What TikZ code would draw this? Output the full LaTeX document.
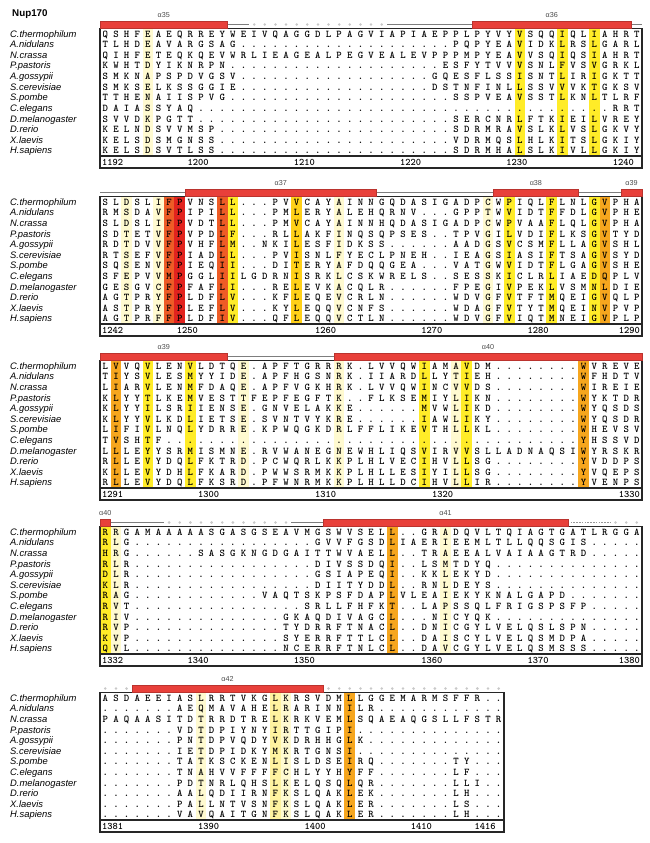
\documentclass[tikz,border=0pt]{standalone}
\usepackage{fontspec}
\setmainfont{Liberation Sans}
\definecolor{helixred}{RGB}{232,64,58}
\definecolor{consred}{RGB}{226,35,30}
\definecolor{consredorange}{RGB}{238,92,38}
\definecolor{consorange}{RGB}{246,166,30}
\definecolor{consgold}{RGB}{255,208,24}
\definecolor{consyellow}{RGB}{255,236,40}
\definecolor{conslight}{RGB}{255,243,160}
\definecolor{conspale}{RGB}{255,250,208}
\definecolor{coilgrey}{RGB}{125,125,125}
\definecolor{gapgrey}{RGB}{200,200,200}
\tikzset{
  res/.style={font=\ttfamily\bfseries\fontsize{10.3}{11}\selectfont, inner sep=0pt, anchor=base},
  species/.style={font=\itshape\fontsize{9.4}{10}\selectfont, inner sep=0pt, anchor=base west},
  rulernum/.style={font=\ttfamily\bfseries\fontsize{10}{11}\selectfont, inner sep=0pt},
  alnbox/.style={draw=black!85, line width=1.5pt},
  helix/.style={fill=helixred, draw=helixred!80!black, line width=0.4pt},
  coil/.style={draw=coilgrey, line width=0.9pt},
  disorder/.style={fill=gapgrey},
  sslabel/.style={font=\fontsize{7.2}{8}\selectfont, text=black!70, inner sep=0pt}
}
% one residue column is 10.63 wide, the boxes start at x=100
\newcounter{rescol}
\newcommand*{\dotsrun}{gaps}
\newcommand{\seqres}[1]{\stepcounter{rescol}\node[res] at ({94.7+10.63*\arabic{rescol}},\rowy) {#1};}
\def\seqchars#1{%
  \ifx#1\relax \let\seqnext\relax
  \else\ifx#1\dotsrun \let\seqnext\seqgap
  \else \seqres{#1}\let\seqnext\seqchars \fi\fi
  \seqnext}
\def\seqgap#1{\foreach \k in {1,...,#1}{\seqres{.}}\seqchars}
\newcommand{\seqrow}[4]{% top row y, row index, species, residues
  \pgfmathsetmacro{\rowy}{#1+10.6*#2+3.2}
  \node[species] (sp-\blk-#2) at (10,\rowy) {#3};
  \setcounter{rescol}{0}
  \seqchars#4\relax}
\newcommand{\hlcol}[3]{\fill[#3] ({100+10.63*(#2-1)},{#1-5.5}) rectangle ++(10.63,127.5);}
\newcommand{\alnframe}[2]{
  \draw[alnbox] (100,{#1-5.5}) rectangle ({100+10.63*#2},{#1+134});
  \draw[alnbox] (100,{#1+122}) -- ({100+10.63*#2},{#1+122});
}
\newcommand{\rulerfirst}[2]{\node[rulernum, anchor=base west] at (102,{#1+131.5}) {#2};}
\newcommand{\rulerat}[3]{\node[rulernum, anchor=base west] at ({91.7+10.63*#2},{#1+131.5}) {#3};}
\newcommand{\rulerlast}[3]{\node[rulernum, anchor=base east] at ({98+10.63*#2},{#1+131.5}) {#3};}
\newcommand{\helixbar}[4]{
  \fill[helix] ({100+10.63*(#2-1)},{#1-13}) rectangle ({100+10.63*#3},{#1-6});
  \node[sslabel] at ({100+10.63*(#2+#3-1)/2},{#1-19}) {#4};
}
\newcommand{\coilbar}[3]{\draw[coil] ({100+10.63*(#2-1)},{#1-9.5}) -- ({100+10.63*#3},{#1-9.5});}
\newcommand{\disorderbar}[3]{\foreach \c in {#2,...,#3}{\fill[disorder] ({94.7+10.63*\c},{#1-9.5}) circle (1.4pt);}}

\begin{document}
\begin{tikzpicture}[x=1pt,y=-1pt]
  \useasboundingbox (0,0) rectangle (650,843);
  \node[font=\bfseries\fontsize{9.8}{11}\selectfont, anchor=base west, inner sep=0pt] (title) at (12,17) {Nup170};

  % Block 1: 1192-1240
  \def\blk{b1}
  \hlcol{34}{5}{conspale}
  \foreach \c in {40,44,47} {\hlcol{34}{\c}{consyellow}}
  \alnframe{34}{51}
  \coilbar{34}{13}{14} \coilbar{34}{28}{35} \coilbar{34}{51}{51}
  \disorderbar{34}{15}{27}
  \helixbar{34}{1}{12}{α35}
  \helixbar{34}{36}{50}{α36}
  \seqrow{34}{0}{C.thermophilum}{QSHFEAEQRREYWEIVQAGGDLPAGVIAPIAEPPLPYVYVSQQIQLIAHRT}
  \seqrow{34}{1}{A.nidulans}{TLHDEAVARGSAG\dotsrun{20}PQPYEAVIDKLRSLGARL}
  \seqrow{34}{2}{N.crassa}{QIHFETEQKQEVWRLIEAGEALPEGVEALEVPPPMPYEAVVSQIQSIAHRT}
  \seqrow{34}{3}{P.pastoris}{KWHTDYIKNRPN\dotsrun{20}ESFYTVVVSNLFVSVGRKL}
  \seqrow{34}{4}{A.gossypii}{SMKNAPSPDVGSV\dotsrun{18}GQESFLSSISNTLIRIGKTT}
  \seqrow{34}{5}{S.cerevisiae}{SMKSELKSSGGIE\dotsrun{18}DSTNFINLLSSVVVKTGKSV}
  \seqrow{34}{6}{S.pombe}{TTHENAIISPVG\dotsrun{21}SSPVEAVSSTLKNLTLRF}
  \seqrow{34}{7}{C.elegans}{DAIASSYAQ\dotsrun{39}RRT}
  \seqrow{34}{8}{D.melanogaster}{SVVDKPGTT\dotsrun{24}SERCNRLFTKIEILVREY}
  \seqrow{34}{9}{D.rerio}{KELNDSVVMSP\dotsrun{22}SDRMRAVSLKLVSLGKVY}
  \seqrow{34}{10}{X.laevis}{KELSDSMGNSS\dotsrun{22}VDRMQSLHLKITSLGKIY}
  \seqrow{34}{11}{H.sapiens}{KELSDSVTLSS\dotsrun{22}SDRMHALSLKIVLLGKIY}
  \rulerfirst{34}{1192}
  \rulerat{34}{9}{1200} \rulerat{34}{19}{1210} \rulerat{34}{29}{1220}
  \rulerat{34}{39}{1230} \rulerat{34}{49}{1240}

  % Block 2: 1242-1290
  \def\blk{b2}
  \foreach \c in {3,6,23,37} {\hlcol{202}{\c}{conspale}}
  \foreach \c in {7,12} {\hlcol{202}{\c}{consredorange}}
  \hlcol{202}{8}{consred}
  \hlcol{202}{19}{consgold}
  \foreach \c in {13,39,43,47} {\hlcol{202}{\c}{consyellow}}
  \hlcol{202}{48}{consorange}
  \alnframe{202}{51}
  \coilbar{202}{1}{8} \coilbar{202}{27}{37} \coilbar{202}{46}{49}
  \helixbar{202}{9}{26}{α37}
  \helixbar{202}{38}{45}{α38}
  \helixbar{202}{50}{51}{α39}
  \seqrow{202}{0}{C.thermophilum}{SLDSLIFPVNSLL\dotsrun{3}PVVCAYAINNGQDASIGADPCWPIQLFLNLGVPHA}
  \seqrow{202}{1}{A.nidulans}{RMSDAVFPIPILL\dotsrun{3}PMLERYALEHQRNV\dotsrun{3}GPPTWVIDTFFDLGVPHE}
  \seqrow{202}{2}{N.crassa}{SLDSLIFPVDTLL\dotsrun{3}PMVCAYAINNHQDASIGADPCWPVAAFLQLGVPHA}
  \seqrow{202}{3}{P.pastoris}{SDTETVFPVPDLF\dotsrun{3}RLLAKFINQSQPSES\dotsrun{2}TPVGILVDIFLKSGVTYD}
  \seqrow{202}{4}{A.gossypii}{RDTDVVFPVHFLM\dotsrun{2}NKILESFIDKSS\dotsrun{6}AADGSVCSMFLLAGVSHL}
  \seqrow{202}{5}{S.cerevisiae}{RTSEFVFPIADLL\dotsrun{3}PVISNLFYECLPNEH\dotsrun{2}IEAGSIASIFTSAGVSYD}
  \seqrow{202}{6}{S.pombe}{SQSENVFPIEQII\dotsrun{3}DITERYAFDQQGEA\dotsrun{3}VATGWVIDTFLGAGVSHE}
  \seqrow{202}{7}{C.elegans}{SFEPVVMPGGLIILGDRNISRKLCSKWRELS\dotsrun{2}SESSKICLRLIAEDQPLV}
  \seqrow{202}{8}{D.melanogaster}{GESGVCFPFAFLI\dotsrun{3}RELEVKACQLR\dotsrun{6}FPEGIVPEKLVSMNLDIE}
  \seqrow{202}{9}{D.rerio}{AGTPRYFPLDFLV\dotsrun{3}KFLEQEVCRLN\dotsrun{6}WDVGFVTFTMQEIGVQLP}
  \seqrow{202}{10}{X.laevis}{ASTPRYFPLEFLV\dotsrun{3}KYLEQQVCNFS\dotsrun{6}WDAGFVTYTMQEINVPVP}
  \seqrow{202}{11}{H.sapiens}{AGTPRFFPLDFIV\dotsrun{3}QFLEQQVCTLN\dotsrun{6}WDVGFVIQTMNEIGVPLP}
  \rulerfirst{202}{1242}
  \rulerat{202}{8}{1250} \rulerat{202}{21}{1260} \rulerat{202}{31}{1270}
  \rulerat{202}{41}{1280} \rulerlast{202}{51}{1290}

  % Block 3: 1291-1330
  \def\blk{b3}
  \foreach \c in {14,23,34} {\hlcol{366}{\c}{conspale}}
  \foreach \c in {5,9,31,35} {\hlcol{366}{\c}{consyellow}}
  \foreach \c in {2,46} {\hlcol{366}{\c}{consorange}}
  \alnframe{366}{51}
  \coilbar{366}{13}{22}
  \helixbar{366}{1}{12}{α39}
  \helixbar{366}{23}{51}{α40}
  \seqrow{366}{0}{C.thermophilum}{LVVQVLENVLDTQE.APFTGRRRK.LVVQWIAMAVDM\dotsrun{8}WVREVE}
  \seqrow{366}{1}{A.nidulans}{TIYSVLESMYYIDE.APFHGSNRK.IIARDLLYTIEH\dotsrun{8}WFHDTV}
  \seqrow{366}{2}{N.crassa}{LIARVLENMFDAQE.APFVGKHRK.LVVQWINCVVDS\dotsrun{8}WIREIE}
  \seqrow{366}{3}{P.pastoris}{KLYYTLKEMVESTTFEPFEGFTK..FLKSEMIYLIKN\dotsrun{8}WYKTDR}
  \seqrow{366}{4}{A.gossypii}{KLYYILSRIIENSE.GNVELAKKE\dotsrun{6}MVWLIKD\dotsrun{8}WYQSDS}
  \seqrow{366}{5}{S.cerevisiae}{KLYYVLKDLIETSE.SVNTVYKRE\dotsrun{6}IAWLIKY\dotsrun{8}WYQSDR}
  \seqrow{366}{6}{S.pombe}{LIFIVLNQLYDRRE.KPWQGKDRLFFLIKEVTHLLKL\dotsrun{8}WHEVSV}
  \seqrow{366}{7}{C.elegans}{TVSHTF\dotsrun{39}YHSSVD}
  \seqrow{366}{8}{D.melanogaster}{LLLEYYSRMISMNE.RVWANEGNEWHLIQSVIRVVSLLADNAQSIWYRSKR}
  \seqrow{366}{9}{D.rerio}{RLLEVYDQLFKTRD.PCWQRLKKPLHLVECIHVLLSG\dotsrun{8}YVDDPS}
  \seqrow{366}{10}{X.laevis}{KLLEVYDHLFKARD.PWWSRMKKPLHLLESIYILLSG\dotsrun{8}YVQEPS}
  \seqrow{366}{11}{H.sapiens}{RLLEVYDQLFKSRD.PFWNRMKKPLHLLDCIHVLLIR\dotsrun{8}YVENPS}
  \rulerfirst{366}{1291}
  \rulerat{366}{10}{1300} \rulerat{366}{21}{1310} \rulerat{366}{32}{1320}
  \rulerlast{366}{51}{1330}

  % Block 4: 1332-1380
  \def\blk{b4}
  \foreach \c in {2,33} {\hlcol{532}{\c}{conspale}}
  \hlcol{532}{1}{consyellow}
  \hlcol{532}{28}{consorange}
  \alnframe{532}{51}
  \coilbar{532}{2}{6} \coilbar{532}{19}{21}
  \draw[coil, draw=gapgrey!75!black, dash pattern=on 1.6pt off 1.2pt] ({100+10.63*44},{532-9.5}) -- ({100+10.63*48},{532-9.5});
  \disorderbar{532}{7}{18} \disorderbar{532}{49}{51}
  \helixbar{532}{1}{1}{α40}
  \helixbar{532}{22}{44}{α41}
  \seqrow{532}{0}{C.thermophilum}{RRGAMAAAAASGASGSEAVMGSWVSELL..GRADQVLTQIAGTGATLRGGA}
  \seqrow{532}{1}{A.nidulans}{RLG\dotsrun{17}GVVFGSDLIAERIEEMLTLLQQSGIS\dotsrun{5}}
  \seqrow{532}{2}{N.crassa}{HRG\dotsrun{6}SASGKNGDGAITTWVAELL..TRAEEALVAIAAGTRD\dotsrun{5}}
  \seqrow{532}{3}{P.pastoris}{RLR\dotsrun{17}DIVSSDQI..LSMTDYQ\dotsrun{14}}
  \seqrow{532}{4}{A.gossypii}{DLR\dotsrun{17}GSIAPEQI..KKLEKYD\dotsrun{14}}
  \seqrow{532}{5}{S.cerevisiae}{KLR\dotsrun{17}DIITYDDL..RNLDEYS\dotsrun{14}}
  \seqrow{532}{6}{S.pombe}{RAG\dotsrun{12}VAQTSKPSFDAPLVLEAIEKYKNALGAPD\dotsrun{7}}
  \seqrow{532}{7}{C.elegans}{RVT\dotsrun{16}SRLLFHFKT..LAPSSQLFRIGSPSFP\dotsrun{5}}
  \seqrow{532}{8}{D.melanogaster}{RIV\dotsrun{14}GKAQDIVAGCL...NICYQK\dotsrun{14}}
  \seqrow{532}{9}{D.rerio}{RVP\dotsrun{14}TYDRRFTNACL..DNICGYLVELQSLSPN\dotsrun{5}}
  \seqrow{532}{10}{X.laevis}{KVP\dotsrun{14}SYERRFTTLCL..DAISCYLVELQSMDPA\dotsrun{5}}
  \seqrow{532}{11}{H.sapiens}{QVL\dotsrun{14}NCERRFTNLCL..DAVCGYLVELQSMSSS\dotsrun{5}}
  \rulerfirst{532}{1332}
  \rulerat{532}{9}{1340} \rulerat{532}{19}{1350} \rulerat{532}{31}{1360}
  \rulerat{532}{41}{1370} \rulerlast{532}{51}{1380}

  % Block 5: 1381-1416
  \def\blk{b5}
  \foreach \c in {10,18} {\hlcol{698}{\c}{conspale}}
  \hlcol{698}{17}{conslight}
  \hlcol{698}{24}{consorange}
  \alnframe{698}{38}
  \disorderbar{698}{1}{3} \disorderbar{698}{22}{38}
  \helixbar{698}{4}{21}{α42}
  \seqrow{698}{0}{C.thermophilum}{ASDAEEIASLRRTVKGLKRSVDMLLGGEMARMSFFR..}
  \seqrow{698}{1}{A.nidulans}{\dotsrun{7}AEQMAVAHELRARINNILR\dotsrun{12}}
  \seqrow{698}{2}{N.crassa}{PAQAASITDTRRDTRELKRKVEMLSQAEAQGSLLFSTR}
  \seqrow{698}{3}{P.pastoris}{\dotsrun{7}VDTDPIYNYIRTTGIPI\dotsrun{14}}
  \seqrow{698}{4}{A.gossypii}{\dotsrun{7}PNTDPVQDYVKDRHHGLK\dotsrun{13}}
  \seqrow{698}{5}{S.cerevisiae}{\dotsrun{7}IETDPIDKYMKRTGNSI\dotsrun{14}}
  \seqrow{698}{6}{S.pombe}{\dotsrun{7}TATKSCKENLISLDSEIRQ\dotsrun{7}TY...}
  \seqrow{698}{7}{C.elegans}{\dotsrun{7}TNAHVVFFFFCHLYYHYFF\dotsrun{7}LF...}
  \seqrow{698}{8}{D.melanogaster}{\dotsrun{7}PDTNRLQHSLKELQSQLQR\dotsrun{7}LLI..}
  \seqrow{698}{9}{D.rerio}{\dotsrun{7}AALQDIIRNFKSLQAKLEK\dotsrun{7}LH...}
  \seqrow{698}{10}{X.laevis}{\dotsrun{7}PALLNTVSNFKSLQAKLER\dotsrun{7}LS...}
  \seqrow{698}{11}{H.sapiens}{\dotsrun{7}VAVQAITGNFKSLQAKLER\dotsrun{7}LH...}
  \rulerfirst{698}{1381}
  \rulerat{698}{10}{1390} \rulerat{698}{20}{1400} \rulerat{698}{30}{1410}
  \rulerat{698}{36}{1416}
\end{tikzpicture}
\end{document}
